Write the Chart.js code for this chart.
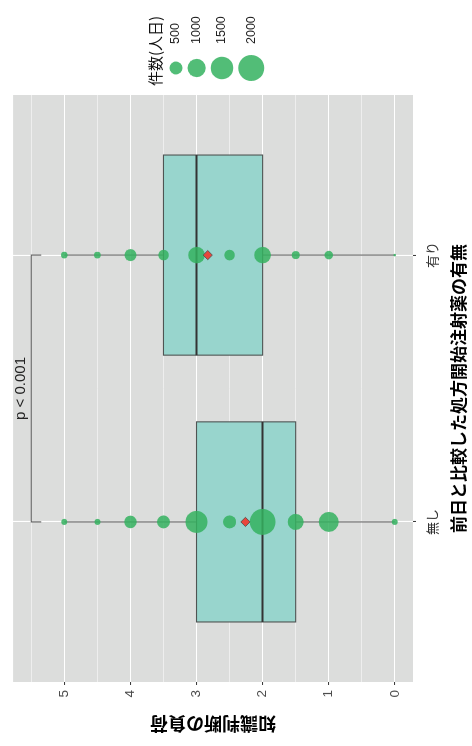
<!DOCTYPE html>
<html><head><meta charset="utf-8">
<script src="https://cdn.jsdelivr.net/npm/chart.js@4/dist/chart.umd.min.js"></script>
<style>
html,body{margin:0;padding:0;background:#fff;overflow:hidden;width:472px;height:746px;}
#wrap{position:absolute;left:0;top:746px;width:746px;height:472px;transform-origin:0 0;transform:rotate(-90deg);}
canvas{display:block;}
</style></head><body>
<div id="wrap"><canvas id="c" width="746" height="472"></canvas></div>
<script>
// ---- data ----
const categories = ['無し', '有り'];
const categoryPos = [1, 2];
const valueTicks = [0, 1, 2, 3, 4, 5];
const minorTicks = [0.5, 1.5, 2.5, 3.5, 4.5, 5.5];
const levels = [0, 1, 1.5, 2, 2.5, 3, 3.5, 4, 4.5, 5];
const countsNashi = [107, 1190, 760, 2000, 500, 1440, 500, 470, 107, 107];
const countsAri = [20, 220, 190, 820, 334, 820, 334, 430, 130, 130];
const q1 = [1.5, 2];
const medians = [2, 3];
const q3 = [3, 3.5];
const whiskLow = [0, 0];
const whiskHigh = [5, 5];
const means = [2.26, 2.83];
const legendCounts = [500, 1000, 1500, 2000];
const legendTitle = '件数(人日)';
const xTitle = '前日と比較した処方開始注射薬の有無';
const yTitle = '知識判断の負荷';
const bracketY = 5.5;
const bracketTip = 0.15;
const pLabel = 'p < 0.001';

// ---- style ----
const LAT = '"Liberation Sans", Arial, "Noto Sans CJK JP", sans-serif';
const CJK = '"Noto Sans CJK JP", "Liberation Sans", sans-serif';
const sizeK = 0.29;
const radiusOf = n => sizeK * Math.sqrt(n);
const dotColor = 'rgba(52,178,95,0.85)';
const boxWidthUnits = 0.75;

Chart.defaults.font.family = LAT;

const countsByCat = [countsNashi, countsAri];
const dots = [];
countsByCat.forEach((arr, i) => {
  arr.forEach((n, j) => dots.push({x: categoryPos[i], y: levels[j], r: radiusOf(n)}));
});

const panelPlugin = {
  id: 'panel',
  beforeDraw(chart) {
    const {ctx, chartArea: a} = chart;
    ctx.save();
    ctx.fillStyle = '#dcdddc';
    ctx.fillRect(a.left, a.top, a.right - a.left, a.bottom - a.top);
    ctx.restore();
  }
};

const boxPlugin = {
  id: 'boxes',
  beforeDatasetsDraw(chart) {
    const {ctx} = chart;
    const xs = chart.scales.x, ys = chart.scales.y;
    ctx.save();
    categoryPos.forEach((c, i) => {
      const px = xs.getPixelForValue(c);
      const half = xs.getPixelForValue(c + boxWidthUnits / 2) - px;
      // whiskers
      ctx.strokeStyle = '#555';
      ctx.lineWidth = 1;
      ctx.beginPath();
      ctx.moveTo(px, ys.getPixelForValue(whiskLow[i]));
      ctx.lineTo(px, ys.getPixelForValue(q1[i]));
      ctx.moveTo(px, ys.getPixelForValue(q3[i]));
      ctx.lineTo(px, ys.getPixelForValue(whiskHigh[i]));
      ctx.stroke();
      // box
      const yTop = ys.getPixelForValue(q3[i]);
      const yBot = ys.getPixelForValue(q1[i]);
      ctx.fillStyle = '#98d5cd';
      ctx.fillRect(px - half, yTop, 2 * half, yBot - yTop);
      ctx.strokeStyle = '#4f5453';
      ctx.lineWidth = 1.1;
      ctx.strokeRect(px - half, yTop, 2 * half, yBot - yTop);
      // median
      const ym = ys.getPixelForValue(medians[i]);
      ctx.strokeStyle = '#333';
      ctx.lineWidth = 2;
      ctx.beginPath();
      ctx.moveTo(px - half, ym);
      ctx.lineTo(px + half, ym);
      ctx.stroke();
    });
    ctx.restore();
  }
};

const bracketPlugin = {
  id: 'bracket',
  afterDatasetsDraw(chart) {
    const {ctx} = chart;
    const xs = chart.scales.x, ys = chart.scales.y;
    const x1 = xs.getPixelForValue(categoryPos[0]);
    const x2 = xs.getPixelForValue(categoryPos[1]);
    const yb = ys.getPixelForValue(bracketY);
    const yt = ys.getPixelForValue(bracketY - bracketTip);
    ctx.save();
    ctx.strokeStyle = '#5a5a5a';
    ctx.lineWidth = 1.1;
    ctx.beginPath();
    ctx.moveTo(x1, yt); ctx.lineTo(x1, yb); ctx.lineTo(x2, yb); ctx.lineTo(x2, yt);
    ctx.stroke();
    ctx.fillStyle = '#222';
    ctx.font = '15px ' + LAT;
    ctx.textAlign = 'center';
    ctx.textBaseline = 'alphabetic';
    ctx.fillText(pLabel, (x1 + x2) / 2, yb - 6);
    ctx.restore();
  }
};

const legendPlugin = {
  id: 'sizeLegend',
  afterDraw(chart) {
    const {ctx} = chart;
    ctx.save();
    ctx.fillStyle = '#111';
    ctx.font = '15px ' + CJK;
    ctx.textAlign = 'left';
    ctx.textBaseline = 'middle';
    ctx.fillText(legendTitle, 660, 155);
    let y = 169.5;
    let prevR = 0;
    legendCounts.forEach((n, i) => {
      const r = radiusOf(n);
      y += (i === 0 ? r : prevR + r + 5);
      prevR = r;
      ctx.fillStyle = dotColor;
      ctx.beginPath();
      ctx.arc(678, y, r, 0, Math.PI * 2);
      ctx.fill();
      ctx.fillStyle = '#222';
      ctx.font = '12.5px ' + LAT;
      ctx.fillText(String(n), 702, y);
    });
    ctx.restore();
  }
};

new Chart(document.getElementById('c'), {
  type: 'bubble',
  data: {
    datasets: [
      {
        type: 'scatter', label: 'mean', order: 0, xAxisID: 'x', yAxisID: 'y',
        data: means.map((m, i) => ({x: categoryPos[i], y: m})),
        pointStyle: 'rectRot', pointRadius: 4.6,
        backgroundColor: '#e8463b', borderColor: '#4a4a4a', borderWidth: 0.8
      },
      {
        type: 'bubble', label: 'count', order: 1, xAxisID: 'x', yAxisID: 'y',
        data: dots, backgroundColor: dotColor, borderWidth: 0
      }
    ]
  },
  options: {
    responsive: false, animation: false, devicePixelRatio: 1, events: [],
    layout: {padding: {left: 0, top: 8, right: 95, bottom: 0}},
    plugins: {legend: {display: false}, tooltip: {enabled: false}},
    scales: {
      x: {
        type: 'linear', position: 'bottom', min: 0.4, max: 2.6,
        afterBuildTicks: s => { s.ticks = categoryPos.map(v => ({value: v})); },
        afterFit: s => { s.height = 59; },
        ticks: {callback: (v, i) => categories[i], font: {size: 13, family: CJK}, color: '#333', padding: 8, maxRotation: 0, autoSkip: false},
        grid: {color: '#ffffff', lineWidth: 1.1, tickLength: 3, tickColor: '#333', tickWidth: 1},
        border: {display: false},
        title: {display: true, text: xTitle, font: {size: 17, weight: 'bold', family: CJK}, color: '#000', padding: {top: 0, bottom: 3}}
      },
      y: {
        type: 'linear', position: 'left', min: -0.275, max: 5.775,
        afterBuildTicks: s => { s.ticks = valueTicks.map(v => ({value: v})); },
        afterFit: s => { s.width = 64; },
        ticks: {callback: v => String(v), font: {size: 13.5}, color: '#4d4d4d', padding: 5},
        grid: {color: '#ffffff', lineWidth: 1.1, tickLength: 3, tickColor: '#333', tickWidth: 1},
        border: {display: false},
        title: {display: true, text: yTitle, font: {size: 18, weight: 'bold', family: CJK}, color: '#000', padding: {top: 11, bottom: 0}}
      },
      yMinor: {
        type: 'linear', position: 'left', min: -0.275, max: 5.775,
        afterBuildTicks: s => { s.ticks = minorTicks.map(v => ({value: v})); },
        afterFit: s => { s.width = 0; },
        ticks: {display: false},
        grid: {color: 'rgba(255,255,255,0.85)', lineWidth: 0.6, drawTicks: false},
        border: {display: false}
      }
    }
  },
  plugins: [panelPlugin, boxPlugin, bracketPlugin, legendPlugin]
});
</script>
</body></html>
